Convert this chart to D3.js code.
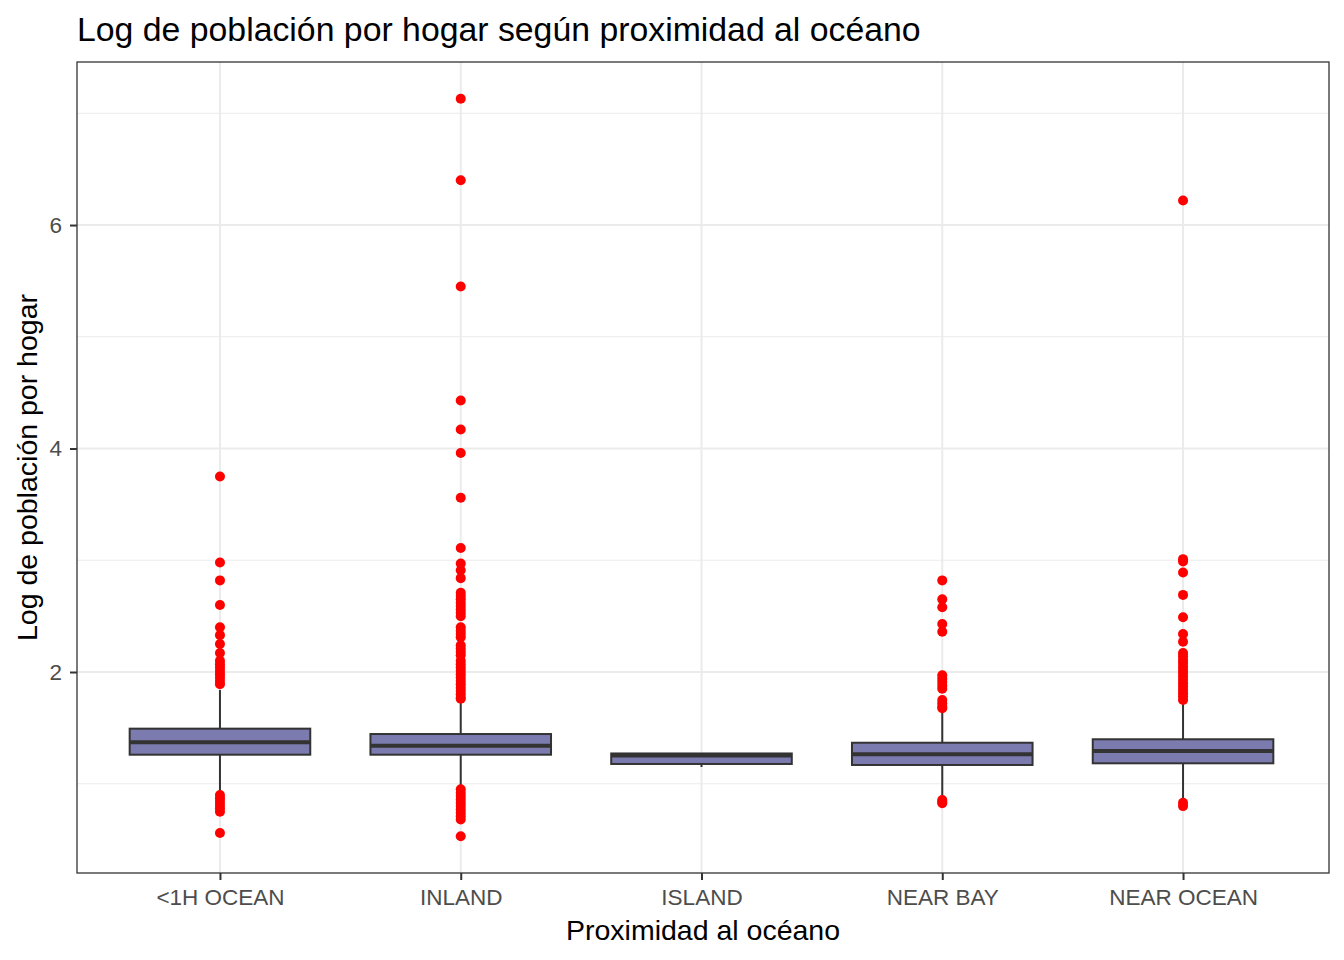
<!DOCTYPE html>
<html>
<head>
<meta charset="utf-8">
<script src="https://cdn.jsdelivr.net/npm/d3@7"></script>
<style>
  body { margin: 0; background: #fff; }
  text { font-family: "Liberation Sans", Arial, sans-serif; }
</style>
</head>
<body>
<script>
// box stats (log of population per household)
var categories = ["<1H OCEAN", "INLAND", "ISLAND", "NEAR BAY", "NEAR OCEAN"];
var q1 = [1.260, 1.260, 1.177, 1.168, 1.183];
var medians = [1.371, 1.341, 1.253, 1.263, 1.293];
var q3 = [1.493, 1.445, 1.271, 1.367, 1.398];
var whiskerLow = [0.915, 0.968, 1.150, 0.870, 0.870];
var whiskerHigh = [1.839, 1.734, 1.271, 1.660, 1.729];

var outliers1H = [3.75, 2.98, 2.82, 2.60, 2.40, 2.33, 2.25, 2.17, 2.10, 2.07, 2.04, 2.01,
  1.98, 1.95, 1.92, 1.89, 0.90, 0.87, 0.84, 0.81, 0.78, 0.75, 0.56];
var outliersInland = [7.13, 6.40, 5.45, 4.43, 4.17, 3.96, 3.56, 3.11, 2.97, 2.91, 2.84,
  2.71, 2.68, 2.65, 2.62, 2.59, 2.56, 2.53, 2.50, 2.40, 2.37, 2.34, 2.31, 2.24, 2.21,
  2.18, 2.15, 2.10, 2.07, 2.04, 2.01, 1.98, 1.95, 1.92, 1.89, 1.86, 1.83, 1.80, 1.77,
  1.76, 0.95, 0.92, 0.89, 0.86, 0.83, 0.80, 0.77, 0.74, 0.71, 0.68, 0.53];
var outliersIsland = [];
var outliersBay = [2.82, 2.65, 2.58, 2.43, 2.36, 1.97, 1.94, 1.91, 1.88, 1.85, 1.75,
  1.72, 1.69, 1.675, 0.855, 0.84, 0.825];
var outliersOcean = [6.22, 3.01, 2.99, 2.89, 2.69, 2.49, 2.34, 2.27, 2.17, 2.14, 2.11,
  2.08, 2.05, 2.02, 1.99, 1.96, 1.93, 1.90, 1.87, 1.84, 1.81, 1.78, 1.75, 0.83, 0.80];
var outliers = [outliers1H, outliersInland, outliersIsland, outliersBay, outliersOcean];

var majorTicks = [2, 4, 6];
var minorTicks = [1, 3, 5, 7];

var margin = {top: 62, right: 15, bottom: 87, left: 77},
    width = 1344 - margin.left - margin.right,
    height = 960 - margin.top - margin.bottom;

var svg = d3.select("body").append("svg")
    .attr("width", 1344)
    .attr("height", 960);

var g = svg.append("g")
    .attr("transform", "translate(" + margin.left + "," + margin.top + ")");

var x = d3.scalePoint()
    .domain(categories)
    .range([-1.5, width - 1.5])
    .padding(0.6);
var y = d3.scaleLinear()
    .domain([0.2013, 7.459])
    .range([height, 0]);

var boxW = x.step() * 0.75;

// grid
g.selectAll(".minor").data(minorTicks).enter().append("line")
    .attr("x1", 0).attr("x2", width)
    .attr("y1", function(d) { return y(d); })
    .attr("y2", function(d) { return y(d); })
    .style("stroke", "#ebebeb").style("stroke-width", 1);
g.selectAll(".major").data(majorTicks).enter().append("line")
    .attr("x1", 0).attr("x2", width)
    .attr("y1", function(d) { return y(d); })
    .attr("y2", function(d) { return y(d); })
    .style("stroke", "#ebebeb").style("stroke-width", 2);
g.selectAll(".vgrid").data(categories).enter().append("line")
    .attr("x1", function(d) { return x(d); })
    .attr("x2", function(d) { return x(d); })
    .attr("y1", 0).attr("y2", height)
    .style("stroke", "#ebebeb").style("stroke-width", 2);

// boxes
var boxes = g.selectAll(".box").data(categories).enter().append("g");

boxes.append("line")
    .attr("x1", function(d) { return x(d); })
    .attr("x2", function(d) { return x(d); })
    .attr("y1", function(d, i) { return y(q3[i]); })
    .attr("y2", function(d, i) { return y(whiskerHigh[i]); })
    .style("stroke", "#333333").style("stroke-width", 2);
boxes.append("line")
    .attr("x1", function(d) { return x(d); })
    .attr("x2", function(d) { return x(d); })
    .attr("y1", function(d, i) { return y(q1[i]); })
    .attr("y2", function(d, i) { return y(whiskerLow[i]); })
    .style("stroke", "#333333").style("stroke-width", 2);
boxes.append("rect")
    .attr("x", function(d) { return x(d) - boxW / 2; })
    .attr("width", boxW)
    .attr("y", function(d, i) { return y(q3[i]); })
    .attr("height", function(d, i) { return y(q1[i]) - y(q3[i]); })
    .style("fill", "#7b7bb0")
    .style("stroke", "#333333").style("stroke-width", 2);
boxes.append("line")
    .attr("x1", function(d) { return x(d) - boxW / 2; })
    .attr("x2", function(d) { return x(d) + boxW / 2; })
    .attr("y1", function(d, i) { return y(medians[i]); })
    .attr("y2", function(d, i) { return y(medians[i]); })
    .style("stroke", "#333333").style("stroke-width", 4);

// outliers
boxes.each(function(cat, i) {
  d3.select(this).selectAll("circle").data(outliers[i]).enter().append("circle")
      .attr("cx", x(cat))
      .attr("cy", function(v) { return y(v); })
      .attr("r", 5)
      .style("fill", "#ff0000");
});

// panel border
g.append("rect")
    .attr("width", width).attr("height", height)
    .style("fill", "none")
    .style("stroke", "#333333").style("stroke-width", 1.3);

// axes
var yAxis = g.append("g")
    .call(d3.axisLeft(y).tickValues(majorTicks).tickSize(7).tickPadding(8).tickFormat(d3.format("d")));
var xAxis = g.append("g")
    .attr("transform", "translate(0," + height + ")")
    .call(d3.axisBottom(x).tickSize(7).tickPadding(9));
[yAxis, xAxis].forEach(function(a) {
  a.select(".domain").remove();
  a.selectAll(".tick line").style("stroke", "#333333").style("stroke-width", 2);
  a.selectAll(".tick text")
      .style("fill", "#4d4d4d")
      .style("font-size", "22.5px")
      .style("font-family", "'Liberation Sans', Arial, sans-serif");
});

// titles
svg.append("text")
    .attr("x", 77).attr("y", 41)
    .style("font-size", "33.8px")
    .text("Log de población por hogar según proximidad al océano");
svg.append("text")
    .attr("x", margin.left + width / 2).attr("y", 940)
    .attr("text-anchor", "middle")
    .style("font-size", "28.5px")
    .text("Proximidad al océano");
svg.append("text")
    .attr("transform", "translate(37," + (margin.top + height / 2) + ") rotate(-90)")
    .attr("text-anchor", "middle")
    .style("font-size", "28.5px")
    .text("Log de población por hogar");
</script>
</body>
</html>
